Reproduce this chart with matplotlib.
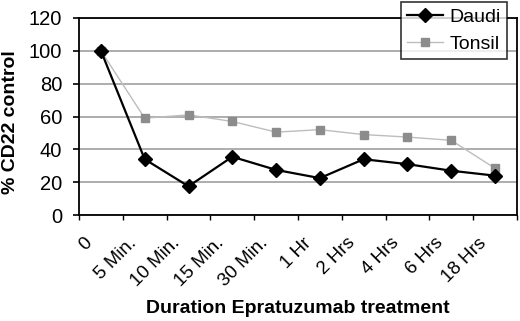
import matplotlib
matplotlib.use("Agg")
import matplotlib.pyplot as plt
import matplotlib.transforms as mtransforms
import numpy as np

categories = ["0", "5 Min.", "10 Min.", "15 Min.", "30 Min.", "1 Hr", "2 Hrs", "4 Hrs", "6 Hrs", "18 Hrs"]
daudi = [100, 34, 17.5, 35.5, 27.5, 22.5, 34, 31, 27, 24]
tonsil = [100, 59, 61, 57, 50.5, 52, 49, 47.5, 45.5, 28.5]
yticks = [0, 20, 40, 60, 80, 100, 120]

plt.rcParams['font.family'] = ['Liberation Sans', 'DejaVu Sans']
fig = plt.figure(figsize=(5.2, 3.21), dpi=100)
ax = fig.add_axes([0.152, 0.330, 0.842, 0.614])

x = np.arange(len(categories))
ax.plot(x, tonsil, color='#bdbdbd', lw=1.0, marker='s', ms=5.5, mfc='#8c8c8c', mec='#8c8c8c', label='Tonsil', zorder=3)
ax.plot(x, daudi, color='black', lw=1.6, marker='D', ms=7.5, mfc='black', mec='black', label='Daudi', zorder=4)

ax.set_xlim(-0.5, len(categories) - 0.5)
ax.set_ylim(0, 120)
ax.set_yticks(yticks)
ax.set_yticklabels([str(v) for v in yticks], fontsize=14.5)
ax.tick_params(axis='y', direction='out', length=4.5, width=1.2, pad=7.5)
ax.yaxis.grid(True, color='#a0a0a0', lw=1.2)
ax.set_axisbelow(True)

ax.set_xticks(x)
ax.set_xticklabels(categories, rotation=45, ha='right', va='top', rotation_mode='anchor', fontsize=13.5)
ax.tick_params(axis='x', which='major', length=0, pad=14)
offset = mtransforms.ScaledTranslation(-17 / 100, 0, fig.dpi_scale_trans)
for lbl in ax.get_xticklabels():
    lbl.set_transform(lbl.get_transform() + offset)
ax.set_xticks(np.arange(len(categories) + 1) - 0.5, minor=True)
ax.tick_params(axis='x', which='minor', direction='out', length=3.8, width=1)

for s in ax.spines.values():
    s.set_linewidth(1.3)
    s.set_color('black')

ax.set_ylabel('% CD22 control', fontsize=14, fontweight='bold')
ax.yaxis.set_label_coords(-0.138, 0.47)
ax.set_xlabel('Duration Epratuzumab treatment', fontsize=14, fontweight='bold')
ax.xaxis.set_label_coords(0.5, -0.43)

handles, labels = ax.get_legend_handles_labels()
leg = ax.legend(handles[::-1], labels[::-1], loc='upper right', bbox_to_anchor=(0.977, 1.081),
                fontsize=14, frameon=True, fancybox=False, edgecolor='black',
                handlelength=1.85, borderpad=0.32, labelspacing=0.5, handletextpad=0.3, borderaxespad=0)
leg.get_frame().set_linewidth(1.2)

fig.savefig('out.png', dpi=100)
